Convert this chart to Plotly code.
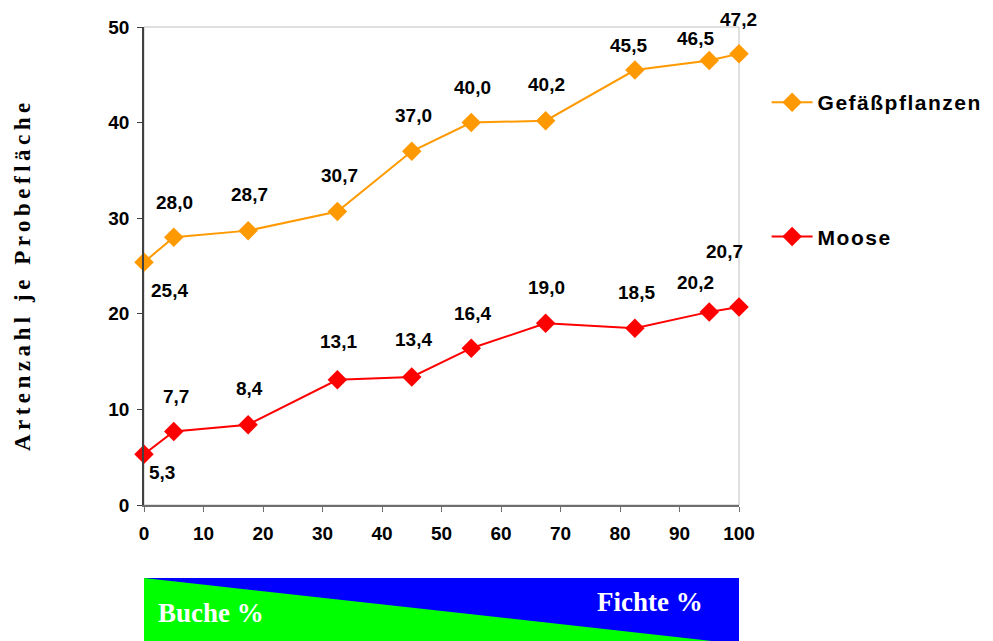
'''
    Artenzahl je Probefläche entlang des Buche-Fichte-Gradienten
'''
import plotly.graph_objects as go

# Anteil Fichte (%) der Probeflächen
fichte_anteil = [0, 5, 17.5, 32.5, 45, 55, 67.5, 82.5, 95, 100]

gefaesspflanzen = [25.4, 28.0, 28.7, 30.7, 37.0, 40.0, 40.2, 45.5, 46.5, 47.2]
moose = [5.3, 7.7, 8.4, 13.1, 13.4, 16.4, 19.0, 18.5, 20.2, 20.7]

# Label-Versatz in Pixel (dx, dy nach unten)
offset_gef = [(25, 28), (1, -35), (1, -36), (2, -36), (2, -36),
              (1, -35), (1, -36), (-6, -25), (-14, -22), (-1, -34)]
offset_moose = [(18, 18), (2, -35), (1, -36), (1, -38), (2, -37),
                (1, -35), (1, -36), (2, -36), (-14, -29), (-15, -56)]

ARIAL = 'Liberation Sans'
TIMES = 'Liberation Serif'


def fmt(v):
    return f'{v:.1f}'.replace('.', ',')


def spaced(text, px):
    return f'<span style="letter-spacing:{px}px">{text}</span>'


fig = go.Figure()

series = [
    ('Gefäßpflanzen', gefaesspflanzen, '#FF9900', offset_gef, 'g1'),
    ('Moose', moose, '#FF0000', offset_moose, 'g2'),
]

for name, values, color, offsets, group in series:
    fig.add_trace(go.Scatter(
        x=fichte_anteil,
        y=values,
        mode='lines+markers',
        name=spaced(name, 1.5),
        legendgroup=group,
        line=dict(color=color, width=2),
        marker=dict(symbol='diamond', size=15, color=color),
        cliponaxis=False,
        hoverinfo='skip'
    ))
    for xv, yv, (dx, dy) in zip(fichte_anteil, values, offsets):
        fig.add_annotation(
            x=xv, y=yv, text=fmt(yv), showarrow=False,
            xanchor='center', yanchor='middle',
            xshift=dx, yshift=-dy,
            font=dict(family=ARIAL, size=19, color='black', weight=700)
        )

# Rahmen oben/rechts
fig.add_shape(type='rect', xref='paper', yref='paper', x0=0, x1=1, y0=0, y1=1,
              line=dict(color='#c0c0c0', width=1), layer='below')

# Buche/Fichte-Balken unter dem Diagramm
box_top = -0.1527
box_bottom = -0.31
diag_end = -0.2908
fig.add_shape(type='rect', xref='paper', yref='paper',
              x0=0, x1=1, y0=box_bottom, y1=box_top,
              fillcolor='#0000FF', line=dict(width=0))
fig.add_shape(type='path', xref='paper', yref='paper',
              path=f'M 0 {box_top} L 1 {diag_end} L 1 {box_bottom} L 0 {box_bottom} Z',
              fillcolor='#00FF00', line=dict(width=0))
fig.add_annotation(xref='paper', yref='paper', x=0.113, y=-0.226,
                   xanchor='center', yanchor='middle',
                   text='Buche %', showarrow=False,
                   font=dict(family=TIMES, size=27, color='white', weight=700))
fig.add_annotation(xref='paper', yref='paper', x=0.851, y=-0.203,
                   xanchor='center', yanchor='middle',
                   text='Fichte %', showarrow=False,
                   font=dict(family=TIMES, size=27, color='white', weight=700))

# Y-Achsentitel
fig.add_annotation(xref='paper', yref='paper', x=-0.205, y=0.481,
                   xanchor='center', yanchor='middle',
                   text=spaced('Artenzahl je Probefläche', 4.5), textangle=-90,
                   showarrow=False,
                   font=dict(family=TIMES, size=23, color='black', weight=700))

fig.update_layout(
    width=993, height=641,
    margin=dict(l=144, r=254, t=27, b=136),
    plot_bgcolor='white',
    paper_bgcolor='white',
    showlegend=True,
    legend=dict(
        xref='container', yref='container',
        x=0.772, y=0.872, xanchor='left', yanchor='top',
        font=dict(family=ARIAL, size=21, color='black', weight=700),
        tracegroupgap=104,
        itemwidth=41,
        bgcolor='rgba(0,0,0,0)'
    ),
    xaxis=dict(
        range=[0, 100], dtick=10, showgrid=False, zeroline=False,
        showline=True, linecolor='#6e6e6e', linewidth=1.5,
        ticks='outside', ticklen=5, tickcolor='#6e6e6e',
        tickfont=dict(family=ARIAL, size=19, color='black', weight=700),
        ticklabelstandoff=5
    ),
    yaxis=dict(
        range=[0, 50], dtick=10, showgrid=False, zeroline=False,
        showline=True, linecolor='#404040', linewidth=1.5,
        ticks='outside', ticklen=5, tickcolor='#404040',
        tickfont=dict(family=ARIAL, size=19, color='black', weight=700),
        ticklabelstandoff=4
    ),
    dragmode=False
)

# Seitenrand entfernen, damit die Abbildung bündig im Fenster sitzt
fig.write_html('out.html', config={'displayModeBar': False},
               post_script="document.body.style.margin='0';")
